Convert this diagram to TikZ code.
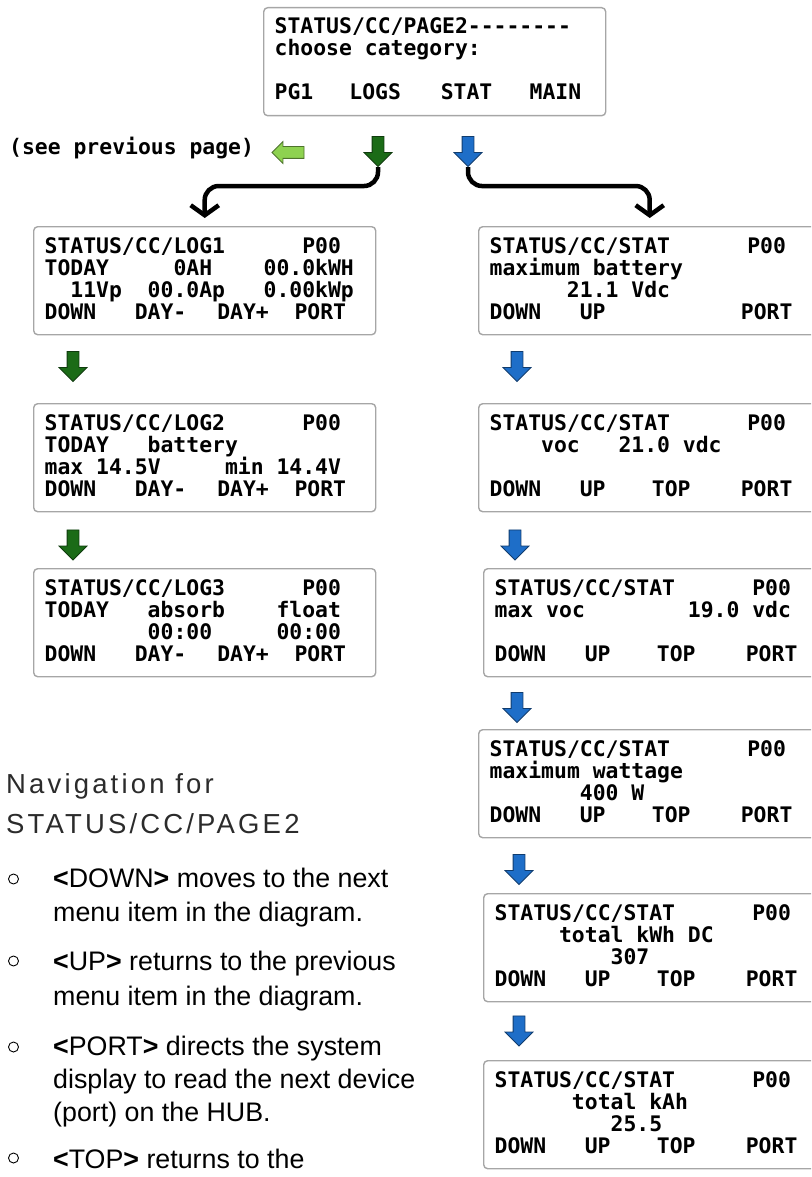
\documentclass[tikz,border=0pt]{standalone}
\usepackage{fontspec}
\usepackage{tikz}
\usetikzlibrary{arrows.meta, shapes.arrows, calc}
\setmainfont{Liberation Sans}
\newfontfamily\lcdfont{DejaVu Sans Mono}[Ligatures=TeXOff]
\newfontfamily\headfont{Liberation Sans}[LetterSpace=11.5]
\definecolor{navgreen}{HTML}{1B6B17}
\definecolor{navblue}{HTML}{1E6EC8}
\definecolor{navlime}{HTML}{8ED250}
\definecolor{lcdframe}{HTML}{A6A6A6}
\definecolor{headgray}{HTML}{2B2B2B}

%% one LCD column is one character of the mono font
\newlength\lcdw \setlength\lcdw{12.88pt}
\newcommand\lcdtype{\lcdfont\bfseries\fontsize{21.4}{22}\selectfont}
\newcommand\lcdat[2]{\rlap{\hspace*{#1\lcdw}#2}}
\newcommand\logkeys{\lcdat{0}{DOWN}\lcdat{7}{DAY-}\lcdat{13.4}{DAY+}\lcdat{19.4}{PORT}}
\newcommand\statkeys{\lcdat{0}{DOWN}\lcdat{7}{UP}\lcdat{12.6}{TOP}\lcdat{19.5}{PORT}}
\newcommand\navkey[1]{\textbf{<}#1\textbf{>}}
%% \screen{name}{x}{y}{line1}{line2}{line3}{line4}
\newcommand\screen[7]{%
  \node[lcdbox] (#1) at (#2,#3) {};
  \node[lcdline] (#1-1) at ($(#1.north west)+(11,27)$) {#4};
  \node[lcdline] (#1-2) at ($(#1.north west)+(11,49)$) {#5};
  \node[lcdline] (#1-3) at ($(#1.north west)+(11,71)$) {#6};
  \node[lcdline] (#1-4) at ($(#1.north west)+(11,93)$) {#7};
}

\begin{document}
\begin{tikzpicture}[x=1pt, y=-1pt,
    lcdbox/.style={draw=lcdframe, line width=1.4pt, rounded corners=4pt,
      minimum width=342pt, minimum height=108pt, anchor=north west, inner sep=0pt},
    lcdline/.style={font=\lcdtype, anchor=base west, inner sep=0pt},
    blockarrow/.style={single arrow, draw=#1!55!black, fill=#1, line width=0.8pt,
      inner sep=5.5pt, minimum width=27pt, minimum height=30pt,
      single arrow head extend=8pt},
    flowline/.style={line width=4.5pt, rounded corners=14pt,
      -{Straight Barb[length=10pt, width=28pt]}},
    navhead/.style={font=\headfont\fontsize{27.5}{40}\selectfont, text=headgray,
      anchor=base west, inner sep=0pt},
    navtext/.style={font=\fontsize{26.8}{34}\selectfont, anchor=base west, inner sep=0pt},
    bulletmark/.style={circle, draw, line width=0.9pt, minimum size=10pt, inner sep=0pt}]
  \useasboundingbox (0,0) rectangle (811,1177);
  \clip (0,0) rectangle (811,1177);

  %% menu page
  \screen{page2}{263}{7}{\lcdat{0}{STATUS/CC/PAGE2--------}}{\lcdat{0}{choose category:}}{}
    {\lcdat{0}{PG1}\lcdat{5.8}{LOGS}\lcdat{12.9}{STAT}\lcdat{19.8}{MAIN}}

  \node[lcdline] (seeprev) at (9,155) {(see previous page)};
  \node[blockarrow=navlime, shape border rotate=180, minimum width=21pt,
        minimum height=32pt, single arrow head extend=5pt] (back) at (291,152.5) {};
  \node[blockarrow=navgreen, shape border rotate=270] (logsarrow) at (378,148.5) {};
  \node[blockarrow=navblue, shape border rotate=270] (statarrow) at (468,148.5) {};

  %% LOGS column
  \screen{log1}{33}{226}{\lcdat{0}{STATUS/CC/LOG1}\lcdat{20}{P00}}
    {\lcdat{0}{TODAY}\lcdat{10}{0AH}\lcdat{17}{00.0kWH}}
    {\lcdat{2}{11Vp}\lcdat{8}{00.0Ap}\lcdat{17}{0.00kWp}}{\logkeys}
  \screen{log2}{33}{403}{\lcdat{0}{STATUS/CC/LOG2}\lcdat{20}{P00}}
    {\lcdat{0}{TODAY}\lcdat{8}{battery}}
    {\lcdat{0}{max 14.5V}\lcdat{14}{min 14.4V}}{\logkeys}
  \screen{log3}{33}{568}{\lcdat{0}{STATUS/CC/LOG3}\lcdat{20}{P00}}
    {\lcdat{0}{TODAY}\lcdat{8}{absorb}\lcdat{18}{float}}
    {\lcdat{8}{00:00}\lcdat{18}{00:00}}{\logkeys}

  %% STAT column
  \screen{stat1}{478}{226}{\lcdat{0}{STATUS/CC/STAT}\lcdat{20}{P00}}
    {\lcdat{0}{maximum battery}}{\lcdat{6}{21.1 Vdc}}
    {\lcdat{0}{DOWN}\lcdat{7}{UP}\lcdat{19.5}{PORT}}
  \screen{stat2}{478}{403}{\lcdat{0}{STATUS/CC/STAT}\lcdat{20}{P00}}
    {\lcdat{4}{voc}\lcdat{10}{21.0 vdc}}{}{\statkeys}
  \screen{stat3}{483}{568}{\lcdat{0}{STATUS/CC/STAT}\lcdat{20}{P00}}
    {\lcdat{0}{max voc}\lcdat{15}{19.0 vdc}}{}{\statkeys}
  \screen{stat4}{478}{729}{\lcdat{0}{STATUS/CC/STAT}\lcdat{20}{P00}}
    {\lcdat{0}{maximum wattage}}{\lcdat{7}{400 W}}{\statkeys}
  \screen{stat5}{483}{893}{\lcdat{0}{STATUS/CC/STAT}\lcdat{20}{P00}}
    {\lcdat{5}{total kWh DC}}{\lcdat{9}{307}}{\statkeys}
  \screen{stat6}{483}{1060}{\lcdat{0}{STATUS/CC/STAT}\lcdat{20}{P00}}
    {\lcdat{6}{total kAh}}{\lcdat{9}{25.5}}{\statkeys}

  %% arrows between the screens
  \foreach \a/\x/\y in {g1/73/363.5, g2/73/542}
    \node[blockarrow=navgreen, shape border rotate=270] (\a) at (\x,\y) {};
  \foreach \a/\x/\y in {b1/517/363.5, b2/515/542, b3/517/704.5, b4/519/866.5, b5/519/1028}
    \node[blockarrow=navblue, shape border rotate=270] (\a) at (\x,\y) {};

  \draw[flowline] (logsarrow.tip) -- ++(0,19) -| ([yshift=8pt]log1.north);
  \draw[flowline] (statarrow.tip) -- ++(0,19) -| ([yshift=8pt]stat1.north);

  %% navigation notes
  \node[navhead] (navtitle1) at (6,793) {Navigation for};
  \node[navhead] (navtitle2) at (6,833) {STATUS/CC/PAGE2};
  \foreach \y in {879,961,1047,1158}
    \node[bulletmark] (dot\y) at (13.5,\y) {};
  \foreach \i/\y/\t in {
      1/887/{\navkey{DOWN} moves to the next},
      2/921/{menu item in the diagram.},
      3/970/{\navkey{UP} returns to the previous},
      4/1005/{menu item in the diagram.},
      5/1055/{\navkey{PORT} directs the system},
      6/1088/{display to read the next device},
      7/1121/{(port) on the HUB.},
      8/1168/{\navkey{TOP} returns to the}}
    \node[navtext] (navline\i) at (53,\y) {\t};
\end{tikzpicture}
\end{document}
